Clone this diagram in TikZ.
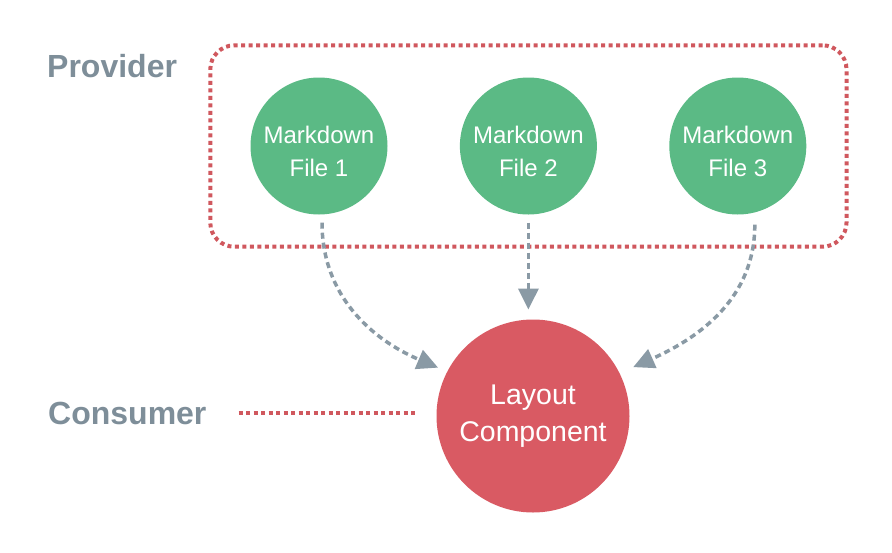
\documentclass[tikz,border=0pt]{standalone}
\usepackage{fontspec}
\setmainfont{Liberation Sans}
\usepackage{xcolor}
\usepackage{tikz}
\usetikzlibrary{shapes,arrows.meta,positioning,fit,calc}

\definecolor{mdgreen}{HTML}{5BBA85}
\definecolor{layoutred}{HTML}{D95A63}
\definecolor{groupred}{HTML}{D0585E}
\definecolor{flowgray}{HTML}{8A9AA5}
\definecolor{rolegray}{HTML}{7E8E99}

\begin{document}
\begin{tikzpicture}[
    x=1pt, y=1pt,
    file/.style={circle, fill=mdgreen, text=white, minimum size=137pt, inner sep=0pt, align=center, font=\fontsize{24pt}{33pt}\selectfont},
    layout/.style={circle, fill=layoutred, text=white, minimum size=193pt, inner sep=0pt, outer sep=10pt, align=center, font=\fontsize{28.5pt}{37.5pt}\selectfont},
    role/.style={anchor=west, inner sep=0pt, text=rolegray, font=\fontsize{32pt}{32pt}\selectfont\bfseries},
    group/.style={draw=groupred, line width=4pt, dash pattern=on 4pt off 3.5pt, rounded corners=24pt, inner xsep=40pt, inner ysep=32pt},
    divider/.style={draw=groupred, line width=4pt, dash pattern=on 4pt off 3.5pt},
    flow/.style={-{Triangle[length=21pt, width=20pt]}, draw=flowgray, line width=3.5pt, dash pattern=on 6pt off 4pt}
]
\useasboundingbox (0,0) rectangle (892,-552);

% Provider row
\node[file] (file1) at (319,-146) {\rule{0pt}{29pt}Markdown\\File 1};
\node[file, right=72pt of file1] (file2) {\rule{0pt}{29pt}Markdown\\File 2};
\node[file, right=72pt of file2] (file3) {\rule{0pt}{29pt}Markdown\\File 3};
\node[group, fit=(file1)(file3)] (provbox) {};
\node[role] (provider) at (47,-66) {Provider};

% Consumer row
\node[layout] (layout) at (533,-416) {Layout\\Component};
\node[role] (consumer) at (48,-413) {Consumer};

% Arrows
\draw[divider] ([xshift=32pt]consumer.east) -- ([xshift=-12pt]consumer.east -| layout.west);
\draw[flow] ([xshift=3pt, yshift=-8pt]file1.south) to[out=-90, in=157] (layout.153);
\draw[flow] ([yshift=-8pt]file2.south) -- (file2.south |- layout.north);
\draw[flow] ([xshift=17pt, yshift=-10pt]file3.south) to[out=-90, in=24] ([shift={(26:5pt)}]layout.26);

\end{tikzpicture}
\end{document}
